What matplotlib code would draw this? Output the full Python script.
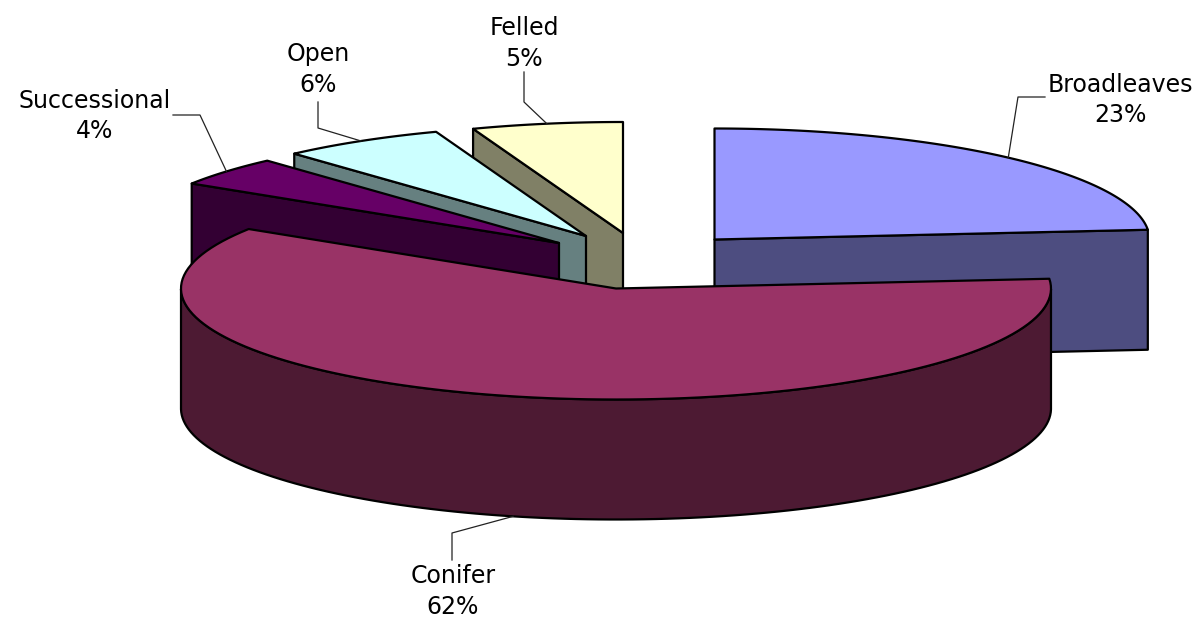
#!/usr/bin/env python3

import numpy as np
import matplotlib
matplotlib.use("Agg")
import matplotlib.pyplot as plt
from matplotlib.patches import Polygon

labels = ["Broadleaves", "Conifer", "Successional", "Open", "Felled"]
shares = [23.6, 60.4, 4.3, 6.1, 5.6]
percent_labels = ["23%", "62%", "4%", "6%", "5%"]
top_colors = ["#9999FF", "#993366", "#660066", "#CCFFFF", "#FFFFCC"]
side_colors = ["#4D4D80", "#4D1A33", "#330033", "#668080", "#808066"]

# where each slice apex ended up after the explosion (pixels)
apexes = [(714.5, 239.5), (616, 288.5), (559, 243), (586, 236), (623, 233)]
RX, RY, DEPTH = 435, 111, 120

# label centre, leader elbow, leader end
label_pos = [(1120, 98), (453, 589), (95, 114), (318, 67), (524, 41)]
leader_pts = [[(1018, 97), (1045, 97)], [(452, 533), (452, 560)],
              [(200, 115), (173, 115)], [(318, 128), (318, 102)], [(524, 102), (524, 72)]]
outline_lw = 1.6


def rim(apex, a0, a1, n=120):
    t = np.radians(np.linspace(a0, a1, n))
    return np.column_stack([apex[0] + RX * np.cos(t), apex[1] - RY * np.sin(t)])


def draw_slice(ax, i, a0, a1):
    # a0 > a1, angles run clockwise from a0
    apex = apexes[i]
    arc = rim(apex, a0, a1)
    kw = dict(edgecolor="black", linewidth=outline_lw, joinstyle="round")
    down = np.array([0, DEPTH])
    # a radial wall shows only if the slice lies behind it
    if np.cos(np.radians(a0)) < -1e-6:
        wall = [apex, arc[0], arc[0] + down, np.array(apex) + down]
        ax.add_patch(Polygon(wall, closed=True, facecolor=side_colors[i], **kw))
    if np.cos(np.radians(a1)) > 1e-6:
        wall = [apex, arc[-1], arc[-1] + down, np.array(apex) + down]
        ax.add_patch(Polygon(wall, closed=True, facecolor=side_colors[i], **kw))
    # outer wall, the part of the rim on the viewer's side
    t = np.linspace(a0, a1, 240)
    front = t[np.sin(np.radians(t)) <= 0]
    if len(front) > 1:
        f = rim(apex, front[0], front[-1])
        ax.add_patch(Polygon(np.vstack([f, f[::-1] + down]), closed=True, facecolor=side_colors[i], **kw))
    ax.add_patch(Polygon(np.vstack([apex, arc]), closed=True, facecolor=top_colors[i], **kw))


fig = plt.figure(figsize=(11.96, 6.2), dpi=100)
ax = fig.add_axes([0, 0, 1, 1])
ax.set_xlim(0, 1196)
ax.set_ylim(620, 0)
ax.axis("off")

fracs = np.array(shares) / sum(shares) * 360
starts = 90 - np.concatenate([[0], np.cumsum(fracs)[:-1]])
ends = starts - fracs

for i in [4, 3, 2, 0, 1]:
    draw_slice(ax, i, starts[i], ends[i])

for i in range(len(labels)):
    mid = np.radians((starts[i] + ends[i]) / 2)
    x0 = apexes[i][0] + RX * np.cos(mid)
    y0 = apexes[i][1] - RY * np.sin(mid) + (DEPTH if np.sin(mid) < 0 else 0)
    pts = [(x0, y0)] + leader_pts[i]
    ax.plot([p[0] for p in pts], [p[1] for p in pts], color="#222222", lw=0.9)
    # two separate lines so the baselines can be placed exactly
    lx, ly = label_pos[i]
    ax.text(lx, ly - 6, labels[i], ha="center", va="baseline", fontsize=17, family="DejaVu Sans")
    ax.text(lx, ly + 24.5, percent_labels[i], ha="center", va="baseline", fontsize=17, family="DejaVu Sans")

fig.savefig("out.png", dpi=100)
